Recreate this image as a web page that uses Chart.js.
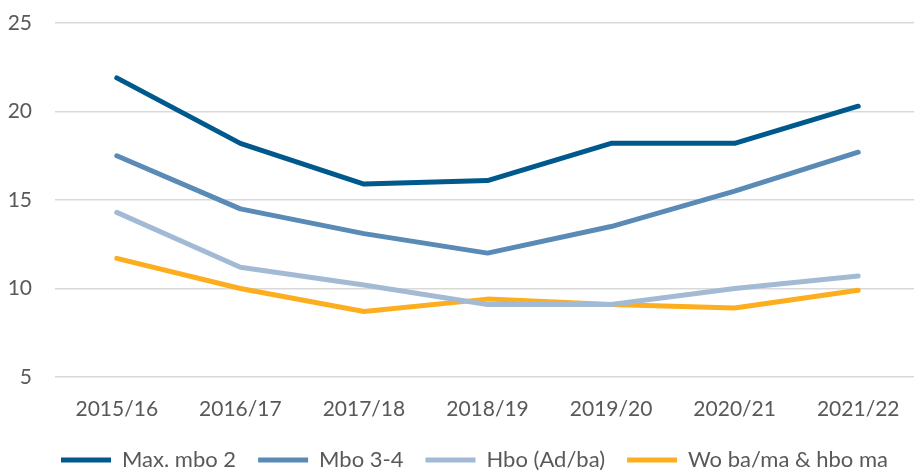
<!DOCTYPE html>
<html>
<head>
<meta charset="utf-8">
<script src="https://cdn.jsdelivr.net/npm/chart.js@4/dist/chart.umd.min.js"></script>
<style>
  html, body { margin: 0; padding: 0; background: #fff; overflow: hidden; }
  body { width: 914px; height: 475px; }
  #wrap { width: 920px; height: 475px; }
</style>
</head>
<body>
<div id="wrap"><canvas id="chart-canvas"></canvas></div>
<script>
// school years and series values
const years = ['2015/16', '2016/17', '2017/18', '2018/19', '2019/20', '2020/21', '2021/22'];
const maxMbo2 = [21.9, 18.2, 15.9, 16.1, 18.2, 18.2, 20.3];
const mbo34 = [17.5, 14.5, 13.1, 12.0, 13.5, 15.5, 17.7];
const hboAdBa = [14.3, 11.2, 10.2, 9.1, 9.1, 10.0, 10.7];
const woBaMa = [11.7, 10.0, 8.7, 9.4, 9.1, 8.9, 9.9];
const yTicks = [5, 10, 15, 20, 25];

const textColor = '#595959';
const fontFamily = 'Lato';

function series(label, data, color) {
    return {
        label: label,
        data: data,
        borderColor: color,
        backgroundColor: color,
        borderWidth: 5,
        borderCapStyle: 'round',
        borderJoinStyle: 'round',
        pointRadius: 0,
        pointHoverRadius: 0,
        pointStyle: 'line',
        tension: 0
    };
}

// nudge the legend a bit to the right of the canvas centre
const legendShift = {
    id: 'legendShift',
    afterLayout: function(chart) {
        chart.legend.left += 13;
        chart.legend.right += 13;
    }
};

document.addEventListener('DOMContentLoaded', function() {
    var ctx = document.getElementById('chart-canvas');
    new Chart(ctx, {
        type: 'line',
        data: {
            labels: years,
            datasets: [
                series('Max. mbo 2', maxMbo2, '#00598C'),
                series('Mbo 3-4', mbo34, '#5A8AB6'),
                series('Hbo (Ad/ba)', hboAdBa, '#A3BAD5'),
                series('Wo ba/ma & hbo ma', woBaMa, '#FDAE1F')
            ]
        },
        plugins: [legendShift],
        options: {
            responsive: true,
            maintainAspectRatio: false,
            animation: false,
            layout: { padding: { left: 3, right: 0, top: 0, bottom: 0 } },
            plugins: {
                legend: {
                    position: 'bottom',
                    maxHeight: 48,
                    labels: {
                        usePointStyle: true,
                        pointStyleWidth: 50,
                        boxHeight: 5,
                        padding: 22,
                        color: textColor,
                        font: { family: fontFamily, size: 22 }
                    }
                },
                tooltip: { enabled: false }
            },
            scales: {
                x: {
                    offset: true,
                    grid: { display: false, drawTicks: false },
                    border: { display: false },
                    afterFit: function(scale) { scale.height = 50; },
                    ticks: {
                        color: textColor,
                        padding: 20,
                        maxRotation: 0,
                        font: { family: fontFamily, size: 21 }
                    }
                },
                y: {
                    min: yTicks[0],
                    max: yTicks[yTicks.length - 1],
                    afterBuildTicks: function(axis) {
                        axis.ticks = yTicks.map(function(v) { return { value: v }; });
                    },
                    afterFit: function(scale) {
                        scale.width = 52;
                        scale.paddingTop = 23;
                    },
                    grid: { color: '#D9D9D9', lineWidth: 1.5, drawTicks: false },
                    border: { display: false },
                    ticks: {
                        color: textColor,
                        padding: 23,
                        font: { family: fontFamily, size: 21 }
                    }
                }
            }
        }
    });
});
</script>
</body>
</html>
